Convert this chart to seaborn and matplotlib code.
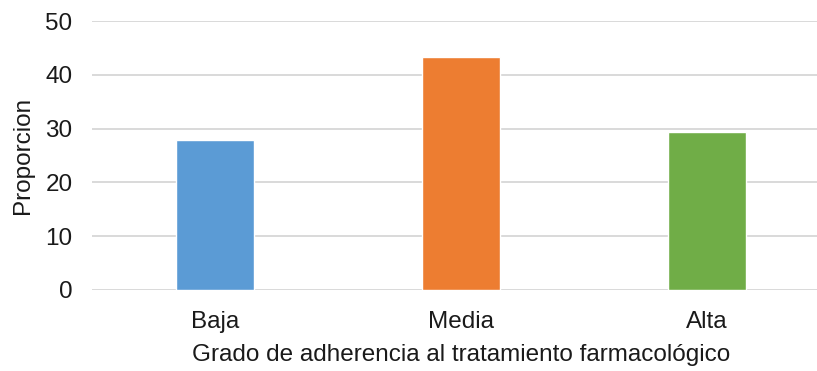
import matplotlib
matplotlib.use("Agg")
import matplotlib.pyplot as plt
import seaborn as sns
import pandas as pd

categories = ["Baja", "Media", "Alta"]
values = [27.9, 43.4, 29.3]
colors = ["#5B9BD5", "#ED7D31", "#70AD47"]

df = pd.DataFrame({"grado": categories, "proporcion": values})

sns.set_theme(style="white")
plt.rcParams["font.family"] = ["Liberation Sans", "DejaVu Sans"]

fig = plt.figure(figsize=(8.17, 3.71), dpi=100)
ax = fig.add_axes([92 / 817, 1 - 290 / 371, 738 / 817, (290 - 21) / 371])

sns.barplot(data=df, x="grado", y="proporcion", hue="grado", palette=colors,
            width=0.32, legend=False, ax=ax, saturation=1)

ax.set_ylim(0, 50)
ax.set_xlim(-0.5, 2.5)
ax.set_yticks([0, 10, 20, 30, 40, 50])
ax.yaxis.grid(True, color="#D9D9D9", linewidth=1.4)
ax.set_axisbelow(True)
for s in ax.spines.values():
    s.set_visible(False)
fs = 17.5
tc = "#1a1a1a"
ax.tick_params(axis="both", length=0, labelsize=fs, labelcolor=tc)
ax.tick_params(axis="y", pad=14)
ax.tick_params(axis="x", pad=15)
ax.set_xlabel("Grado de adherencia al tratamiento farmacológico", fontsize=fs, color=tc, labelpad=8)
ax.set_ylabel("Proporcion", fontsize=fs, color=tc, labelpad=8)

fig.savefig("out.png", dpi=100)
